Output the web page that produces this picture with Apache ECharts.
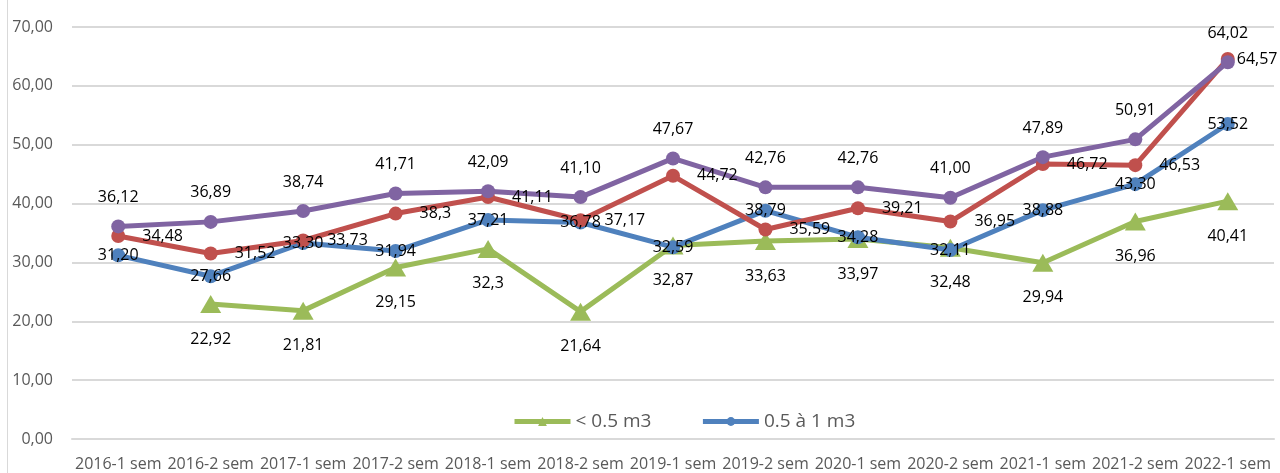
<!DOCTYPE html>
<html>
<head>
<meta charset="utf-8">
<script src="https://cdn.jsdelivr.net/npm/echarts@6/dist/echarts.min.js"></script>
<style>
  html, body { margin: 0; padding: 0; background: #fff; }
  #chart { width: 1280px; height: 473px; }
  .frame { position: absolute; left: 7px; top: 0; width: 1px; height: 473px; background: #d9d9d9; }
</style>
</head>
<body>
<div id="chart"></div>
<div class="frame"></div>
<script>
// semestres
const categories = ['2016-1 sem', '2016-2 sem', '2017-1 sem', '2017-2 sem', '2018-1 sem', '2018-2 sem', '2019-1 sem',
  '2019-2 sem', '2020-1 sem', '2020-2 sem', '2021-1 sem', '2021-2 sem', '2022-1 sem'];

// kept as text so the labels show the same decimals as the original
const smallValues = ['-', '22.92', '21.81', '29.15', '32.3', '21.64', '32.87', '33.63', '33.97', '32.48', '29.94', '36.96', '40.41'];
const mediumValues = ['31.20', '27.66', '33.30', '31.94', '37.21', '36.78', '32.59', '38.79', '34.28', '32.11', '38.88', '43.30', '53.52'];
const redValues = ['34.48', '31.52', '33.73', '38.3', '41.11', '37.17', '44.72', '35.59', '39.21', '36.95', '46.72', '46.53', '64.57'];
const purpleValues = ['36.12', '36.89', '38.74', '41.71', '42.09', '41.10', '47.67', '42.76', '42.76', '41.00', '47.89', '50.91', '64.02'];

const yTicks = { min: 0, max: 70, interval: 10 };

const FONT = '"Open Sans", "Noto Sans", sans-serif';

const fmt = (p) => String(p.data && p.data.value !== undefined ? p.data.value : p.data).replace('.', ',');

const labelStyle = {
  show: true,
  color: '#000',
  fontSize: 16,
  fontFamily: FONT,
  formatter: fmt,
};

const chart = echarts.init(document.getElementById('chart'));
const option = {
  backgroundColor: '#fff',
  animation: false,
  grid: {
    left: 72,
    right: 6,
    top: 27,
    bottom: 34,
    containLabel: false,
    outerBoundsMode: 'none',
  },
  legend: {
    data: ['< 0.5 m3', '0.5 à 1 m3'],
    left: 507,
    top: 407,
    itemWidth: 56,
    itemHeight: 11,
    itemGap: 49,
    lineStyle: { width: 5 },
    textStyle: {
      fontSize: 19,
      color: '#595959',
      fontFamily: FONT,
    },
  },
  xAxis: {
    type: 'category',
    data: categories,
    axisLine: { lineStyle: { color: '#d9d9d9', width: 2 } },
    axisTick: { show: false },
    axisLabel: {
      interval: 0,
      color: '#595959',
      fontSize: 16,
      fontFamily: FONT,
      margin: 17,
    },
  },
  yAxis: {
    type: 'value',
    min: yTicks.min,
    max: yTicks.max,
    interval: yTicks.interval,
    axisLine: { show: false },
    axisTick: { show: false },
    splitLine: { lineStyle: { color: '#d9d9d9', width: 2 } },
    axisLabel: {
      color: '#595959',
      fontSize: 16,
      fontFamily: FONT,
      margin: 19,
      formatter: (v) => v.toFixed(2).replace('.', ','),
    },
  },
  series: [
    {
      name: '< 0.5 m3',
      type: 'line',
      data: smallValues,
      color: '#9BBB59',
      symbol: 'triangle',
      symbolSize: [21, 18],
      lineStyle: { width: 5 },
      label: Object.assign({}, labelStyle, { position: 'bottom', distance: 18 }),
    },
    {
      name: '0.5 à 1 m3',
      type: 'line',
      data: mediumValues,
      color: '#4F81BD',
      symbol: 'circle',
      symbolSize: 14,
      lineStyle: { width: 5 },
      label: Object.assign({}, labelStyle, { position: 'inside' }),
    },
    {
      name: '1 à 2 m3',
      type: 'line',
      data: redValues.map((v, i) => (i === redValues.length - 1 ? { value: v, label: { distance: 2 } } : v)),
      color: '#C0504D',
      symbol: 'circle',
      symbolSize: 14,
      lineStyle: { width: 5 },
      label: Object.assign({}, labelStyle, { position: 'right', distance: 17 }),
    },
    {
      name: '> 2 m3',
      type: 'line',
      data: purpleValues,
      color: '#8064A2',
      symbol: 'circle',
      symbolSize: 14,
      lineStyle: { width: 5 },
      label: Object.assign({}, labelStyle, { position: 'top', distance: 14 }),
    },
  ],
};
chart.setOption(option);
window.addEventListener('resize', () => {
  chart.resize();
});
</script>
</body>
</html>
